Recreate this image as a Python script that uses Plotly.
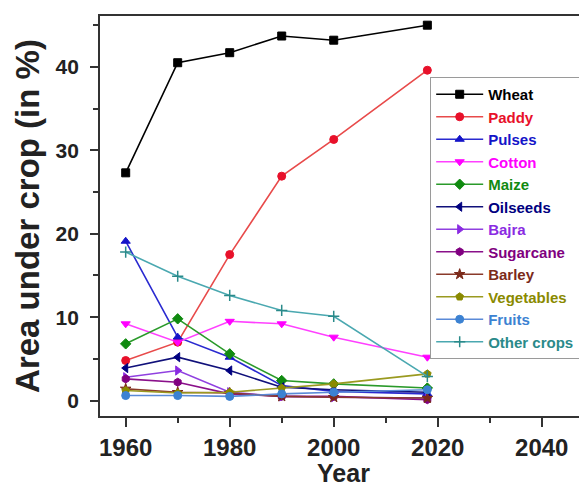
import plotly.graph_objects as go

years = [1960, 1970, 1980, 1990, 2000, 2018]

crops = ["Wheat", "Paddy", "Pulses", "Cotton", "Maize", "Oilseeds", "Bajra",
         "Sugarcane", "Barley", "Vegetables", "Fruits", "Other crops"]

wheat = [27.3, 40.5, 41.7, 43.7, 43.2, 45.0]
paddy = [4.8, 7.0, 17.5, 26.9, 31.3, 39.6]
pulses = [19.1, 7.6, 5.2, 1.8, 1.1, 0.8]
cotton = [9.2, 7.0, 9.5, 9.2, 7.6, 5.2]
maize = [6.8, 9.8, 5.6, 2.4, 2.0, 1.5]
oilseeds = [3.9, 5.2, 3.6, 1.6, 1.3, 1.0]
bajra = [2.8, 3.6, 1.0, 0.5, 0.4, 0.3]
sugarcane = [2.6, 2.2, 0.8, 0.5, 0.5, 0.1]
barley = [1.4, 1.0, 0.9, 0.5, 0.4, 0.3]
vegetables = [1.2, 0.9, 1.0, 1.5, 2.0, 3.2]
fruits = [0.6, 0.6, 0.5, 0.8, 1.0, 1.3]
other_crops = [17.8, 14.9, 12.6, 10.8, 10.1, 2.9]

series = [wheat, paddy, pulses, cotton, maize, oilseeds, bajra,
          sugarcane, barley, vegetables, fruits, other_crops]

colors = ["#000000", "#e8102a", "#1414c8", "#ff00ff", "#108a10", "#000080",
          "#8a2be2", "#800080", "#7b2a1a", "#8a8a00", "#3c82d2", "#2a8a8a"]
line_colors = ["#000000", "#e84a4a", "#2a2ad0", "#ff40ff", "#2a9a2a", "#10107a",
               "#9040e0", "#8a108a", "#8a3a2a", "#9a9a20", "#5a8ad8", "#4aa8b0"]
symbols = ["square", "circle", "triangle-up", "triangle-down", "diamond",
           "triangle-left", "triangle-right", "hexagon", "star", "pentagon",
           "circle", "cross-thin"]

x_ticks = [1960, 1980, 2000, 2020, 2040]
y_ticks = [0, 10, 20, 30, 40]

FONT = "Liberation Sans, Arial, sans-serif"

fig = go.Figure()
for name, vals, c, lc, s in zip(crops, series, colors, line_colors, symbols):
    fig.add_trace(go.Scatter(
        x=years, y=vals, mode="lines+markers",
        name=f'<span style="color:{c}">{name}</span>',
        line=dict(color=lc, width=1.6),
        marker=dict(symbol=s, size=8, color=c,
                    line=dict(color=c, width=1 if s != "cross-thin" else 1.5)),
    ))

# page body has an 8px margin, so the figure is offset by 8px
fig.update_layout(
    width=579, height=479,
    margin=dict(l=92, r=0, t=8, b=71, autoexpand=False),
    paper_bgcolor="white", plot_bgcolor="white",
    font=dict(family=FONT, color="#222222"),
    legend=dict(
        x=0.678, y=0.8475, xanchor="left", yanchor="top",
        bgcolor="white", bordercolor="#9a9a9a", borderwidth=1,
        font=dict(family=FONT, size=15, weight="bold"),
        itemwidth=47,
    ),
    showlegend=True,
)

fig.update_xaxes(
    range=[1955.06, 2048.7],
    tickmode="array", tickvals=x_ticks, ticktext=[str(v) for v in x_ticks],
    ticks="outside", ticklen=9, tickwidth=1.5, tickcolor="#333333",
    minor=dict(dtick=10, tick0=1960, ticks="outside", ticklen=5, tickwidth=1.5, tickcolor="#333333"),
    showline=True, linecolor="#333333", linewidth=1.8, mirror=True,
    showgrid=False, zeroline=False,
    tickfont=dict(family=FONT, size=24, weight="bold", color="#222222"),
    title=dict(text="Year", font=dict(family=FONT, size=25, weight="bold", color="#222222"), standoff=4),
)
fig.update_yaxes(
    range=[-1.85, 46.1],
    tickmode="array", tickvals=y_ticks, ticktext=[str(v) for v in y_ticks],
    ticks="outside", ticklen=8, tickwidth=1.5, tickcolor="#333333",
    minor=dict(dtick=5, tick0=0, ticks="outside", ticklen=5, tickwidth=1.5, tickcolor="#333333"),
    showline=True, linecolor="#333333", linewidth=1.8, mirror=False,
    showgrid=False, zeroline=False,
    tickfont=dict(family=FONT, size=21, weight="bold", color="#222222"),
    ticklabelstandoff=7,
    title=dict(text="Area under crop (in %)", font=dict(family=FONT, size=33, weight="bold", color="#222222"), standoff=6),
)

fig.write_html("out.html")
